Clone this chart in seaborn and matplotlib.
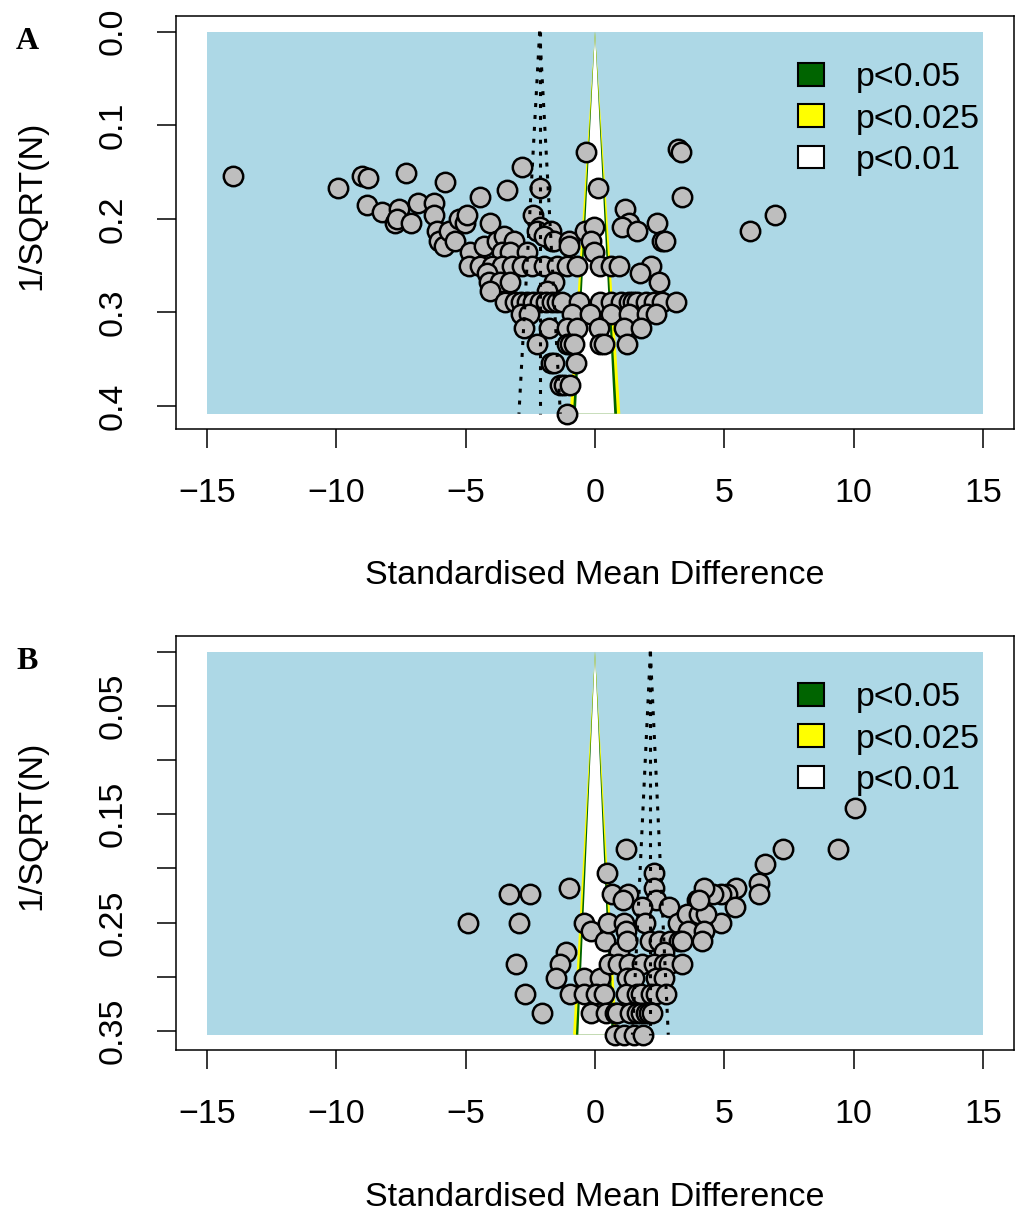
import numpy as np
import pandas as pd
import matplotlib
matplotlib.use("Agg")
import matplotlib.pyplot as plt
from matplotlib.patches import Patch
import seaborn as sns

# ---------------- data ----------------
# Panel A: standardised mean differences and sample sizes
A_smd = [
    -13.98, -9.92, -9.01, -8.76, -7.32, -5.81, -4.46, -3.40, -2.81, -2.11, -0.33, 0.11, 3.21, 3.31, 3.36, 5.99, 6.96,
    -8.80, -8.24, -7.72, -7.59, -7.66, -7.10, -6.86, -6.24, -6.24, -6.11,
    -6.05, -5.85, -5.66, -5.40, -5.27, -5.01, -4.95, -4.85, -4.30, -4.07,
    -3.79, -3.53, -3.14, -3.59, -3.27, -2.62, -2.41, -2.11, -2.24, -1.72,
    -1.66, -1.98, -1.60, -1.01, -1.01, -0.37, -0.05, -0.17, -0.05,
    1.15, 1.31, 1.05, 1.63, 2.38, 2.60, 2.70,
    -4.89, -4.43, -3.98, -3.59, -3.20, -2.82, -2.43, -1.98, -1.46, -1.08, -0.69, 0.21, 0.60, 0.92, 2.15,
    -4.17, 1.74,
    -4.11, -3.66, -3.27, -1.59, 2.47,
    -4.05, -1.85,
    -3.47, -3.08, -2.85, -2.62, -2.40, -2.11, -1.90, -1.66, -1.45, -1.27, -0.60,
    0.21, 0.60, 0.99, 1.31, 1.45, 1.63, 1.96, 2.30, 2.60, 3.12,
    -2.88, -2.56, -0.88, -0.20, 0.60, 1.31, 2.02, 2.34,
    -2.76, -1.79, -1.08, -0.69, 0.15, 1.12, 1.76,
    -2.24, -1.08, -0.95, -0.82, 0.21, 0.34, 1.25,
    -1.72, -1.59, -0.75,
    -1.34, -1.20, -0.98,
    -1.08,
]
A_n = [
    42, 36, 42, 41, 44, 39, 32, 35, 48, 36, 60, 36, 64, 60, 32, 22, 26,
    29, 27, 24, 28, 25, 24, 30, 30, 26, 22,
    20, 19, 22, 20, 25, 24, 26, 18, 19, 24,
    20, 21, 20, 18, 18, 18, 26, 23, 22, 22,
    20, 21, 20, 20, 19, 22, 23, 20, 18,
    28, 24, 23, 22, 24, 20, 20,
    16, 16, 16, 16, 16, 16, 16, 16, 16, 16, 16, 16, 16, 16, 16,
    15, 15,
    14, 14, 14, 14, 14,
    13, 13,
    12, 12, 12, 12, 12, 12, 12, 12, 12, 12, 12,
    12, 12, 12, 12, 12, 12, 12, 12, 12, 12,
    11, 11, 11, 11, 11, 11, 11, 11,
    10, 10, 10, 10, 10, 10, 10,
    9, 9, 9, 9, 9, 9, 9,
    8, 8, 8,
    7, 7, 7,
    6,
]

# Panel B
B_smd = [
    -4.90, -3.34, -2.50, -2.92, -1.01, -3.05, -2.69, -2.04, -1.12, -1.36, -1.52, -0.98,
    -0.43, -0.15, 0.37, 0.50, 0.92, -0.43, 0.19, -0.43, 0.02, 0.34, -0.17, 0.41, 0.79,
    1.20, 0.45, 2.30, 0.64, 1.28, 1.07, 2.28, 2.34, 1.80, 2.88, 3.96,
    1.12, 1.95, 3.20, 3.89, 4.86,
    3.57, 4.02, 4.28,
    1.20, 3.60, 4.21,
    1.25, 2.12, 2.47, 2.90, 3.24, 3.38, 4.15,
    2.65,
    0.53, 0.88, 1.31, 1.83, 2.28, 2.66, 2.86, 3.38,
    1.25, 1.50, 2.34, 2.66,
    1.18, 1.63, 1.76, 2.15, 2.34, 2.76,
    0.86, 1.37, 1.63, 1.76, 1.96, 2.08, 2.21,
    0.79, 1.12, 1.50, 1.85,
    10.06, 9.41, 7.27, 6.57, 6.36, 6.36, 5.44, 5.10, 4.86, 4.58, 4.21, 5.42, 4.04,
]
B_n = [
    16, 20, 20, 16, 21, 12, 10, 9, 13, 12, 11, 10,
    16, 15, 14, 16, 13, 11, 11, 10, 10, 10, 9, 9, 9,
    30, 24, 24, 20, 20, 19, 21, 19, 18, 18, 19,
    16, 16, 16, 16, 16,
    17, 17, 17,
    15, 15, 15,
    14, 14, 14, 14, 14, 14, 14,
    13,
    12, 12, 12, 12, 12, 12, 12, 12,
    11, 11, 11, 11,
    10, 10, 10, 10, 10, 10,
    9, 9, 9, 9, 9, 9, 9,
    8, 8, 8, 8,
    48, 30, 30, 26, 22, 20, 21, 20, 20, 20, 21, 18, 19,
]

# pooled estimates drawn as the dotted pseudo-confidence funnel
A_pooled = -2.14
B_pooled = 2.14

x_ticks = [-15, -10, -5, 0, 5, 10, 15]
A_yticks = [0.0, 0.1, 0.2, 0.3, 0.4]
A_yticklabels = ["0.0", "0.1", "0.2", "0.3", "0.4"]
B_yticks = [0.0, 0.05, 0.10, 0.15, 0.20, 0.25, 0.30, 0.35]
B_yticklabels = ["", "0.05", "", "0.15", "", "0.25", "", "0.35"]

# significance contours (outer to inner) and legend
contour_z = [2.576, 2.241, 1.960]
contour_colors = ["#FFFF00", "#006400", "#FFFFFF"]
legend_labels = ["p<0.05", "p<0.025", "p<0.01"]
legend_colors = ["#006400", "#FFFF00", "#FFFFFF"]

# ---------------- style ----------------
sns.set_style("ticks")
plt.rcParams["font.family"] = ["Liberation Sans", "DejaVu Sans"]
plt.rcParams["axes.linewidth"] = 1.1
plt.rcParams["text.color"] = "black"
plt.rcParams["axes.labelcolor"] = "black"
plt.rcParams["xtick.color"] = "black"
plt.rcParams["ytick.color"] = "black"

BG = "#ADD8E6"
POINT = "#BEBEBE"
SE_SCALE = 0.93
X_RANGE = (-15, 15)
FS = 24.5

W, H = 1019, 1211
fig = plt.figure(figsize=(W / 100, H / 100), dpi=100)


def funnel(ax_box, smd, n, pooled, yticks, yticklabels, tag):
    left, top, right, bottom = ax_box
    ax = fig.add_axes([left / W, 1 - bottom / H, (right - left) / W, (bottom - top) / H])
    df = pd.DataFrame({"smd": smd, "inv_sqrt_n": 1 / np.sqrt(np.array(n, dtype=float))})
    ymax = df["inv_sqrt_n"].max()
    xl, xr = X_RANGE
    xpad = 0.04 * (xr - xl)
    ax.set_xlim(xl - xpad, xr + xpad)
    ax.set_ylim(ymax + 0.04 * ymax, -0.04 * ymax)

    # shaded region outside the contours
    ax.fill_between([xl, xr], 0, ymax, color=BG, lw=0, zorder=0)
    for z, col in zip(contour_z, contour_colors):
        half = z * SE_SCALE * ymax
        ax.fill([0, half, -half], [0, ymax, ymax], color=col, lw=0, zorder=1)

    sns.scatterplot(data=df, x="smd", y="inv_sqrt_n", ax=ax, s=195, color=POINT,
                    edgecolor="black", linewidth=1.8, zorder=3, legend=False)

    dot = dict(color="black", lw=2.2, linestyle=(0, (1.3, 2.6)), zorder=4)
    ax.plot([pooled, pooled], [0, ymax], **dot)
    ax.plot([pooled, pooled - 1.96 * ymax], [0, ymax], **dot)
    ax.plot([pooled, pooled + 1.96 * ymax], [0, ymax], **dot)

    ax.set_xticks(x_ticks)
    ax.set_xticklabels([f"{t}".replace("-", "\u2212") for t in x_ticks])
    ax.set_yticks(yticks)
    ax.set_yticklabels(yticklabels, rotation=90, va="center")
    ax.tick_params(axis="both", direction="out", length=14, width=1.1, color="black",
                   labelsize=FS, labelcolor="black")
    ax.tick_params(axis="x", pad=21)
    ax.tick_params(axis="y", pad=20)
    for sp in ax.spines.values():
        sp.set_visible(True)
        sp.set_color("black")
        sp.set_linewidth(1.1)

    ax.set_xlabel("Standardised Mean Difference", fontsize=FS, va="center")
    ax.xaxis.set_label_coords(0.5, -147 / (bottom - top))
    ax.set_ylabel("1/SQRT(N)", fontsize=FS, va="center", ha="center")
    ax.yaxis.set_label_coords((32 - left) / (right - left), (bottom - (top + 0.457 * (bottom - top))) / (bottom - top))

    handles = [Patch(facecolor=c, edgecolor="black", linewidth=1.5) for c in legend_colors]
    ax.legend(handles, legend_labels, loc="upper left",
              bbox_to_anchor=((798 - left) / (right - left), 1 - 46 / (bottom - top)),
              frameon=False, fontsize=FS, handlelength=0.76, handleheight=0.65,
              handletextpad=0.95, labelspacing=0.3, borderpad=0, borderaxespad=0)

    fig.text((left - 149) / W, 1 - (top + 25) / H, tag, family=["Liberation Serif", "DejaVu Serif"],
             fontweight="bold", fontsize=23, ha="center", va="center")
    return ax


funnel((176, 16.4, 1014, 429.0), A_smd, A_n, A_pooled, A_yticks, A_yticklabels, "A")
funnel((176, 636.4, 1014, 1050.0), B_smd, B_n, B_pooled, B_yticks, B_yticklabels, "B")

fig.savefig("out.png", dpi=100)
